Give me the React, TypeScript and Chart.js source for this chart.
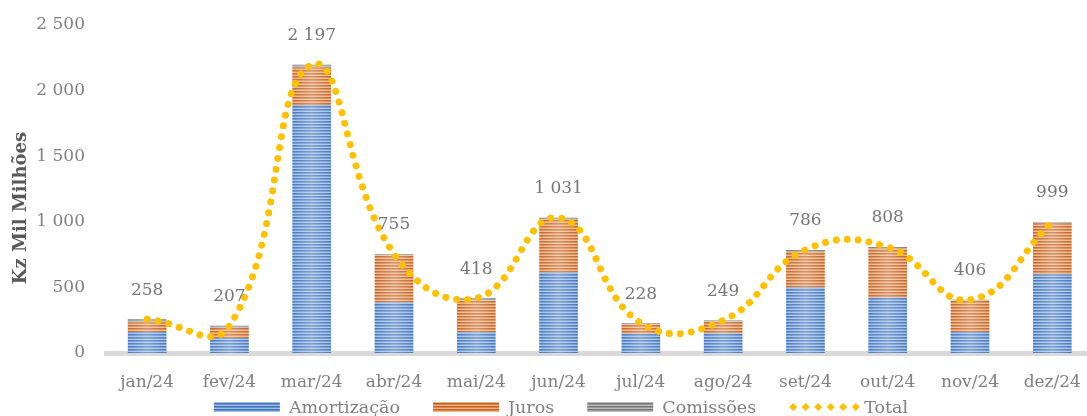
import { useEffect, useRef } from 'react';
import { Chart, registerables } from 'chart.js';

Chart.register(...registerables);

// Monthly debt service, Kz thousand millions
const months = ['jan/24', 'fev/24', 'mar/24', 'abr/24', 'mai/24', 'jun/24', 'jul/24', 'ago/24', 'set/24', 'out/24', 'nov/24', 'dez/24'];
const amortizacao = [160, 115, 1890, 385, 158, 613, 147, 150, 499, 423, 160, 601];
const juros = [75, 75, 287, 360, 240, 400, 70, 89, 272, 373, 238, 388];
const comissoes = [23, 17, 20, 10, 20, 18, 11, 10, 15, 12, 8, 10];
const total = [258, 207, 2197, 755, 418, 1031, 228, 249, 786, 808, 406, 999];

const Y_MAX = 2500;
const Y_STEP = 500;
const AXIS_TITLE = 'Kz Mil Milhões';

const FONT = "'DejaVu Serif', serif";
const TEXT_GREY = '#808080';
const LINE_YELLOW = '#FFC000';

const fmt = (n: number) => String(n).replace(/\B(?=(\d{3})+(?!\d))/g, ' ');

function stripes(light: string, mid: string, dark: string): CanvasPattern | string {
  const c = document.createElement('canvas');
  c.width = 4;
  c.height = 3;
  const g = c.getContext('2d');
  if (!g) return mid;
  g.fillStyle = light;
  g.fillRect(0, 0, 4, 1);
  g.fillStyle = dark;
  g.fillRect(0, 1, 4, 1);
  g.fillStyle = mid;
  g.fillRect(0, 2, 4, 1);
  return g.createPattern(c, 'repeat') || mid;
}

// soft lighter band down the middle of each bar
const barSheen = {
  id: 'barSheen',
  afterDatasetDraw(chart: any, args: any) {
    const meta = chart.getDatasetMeta(args.index);
    if (meta.type !== 'bar') return;
    const ctx = chart.ctx;
    ctx.save();
    for (const el of meta.data) {
      const { x, y, base, width } = el.getProps(['x', 'y', 'base', 'width'], true);
      const l = x - width / 2;
      const g = ctx.createLinearGradient(l, 0, l + width, 0);
      g.addColorStop(0, 'rgba(255,255,255,0.05)');
      g.addColorStop(0.5, 'rgba(255,255,255,0.32)');
      g.addColorStop(1, 'rgba(255,255,255,0.05)');
      ctx.fillStyle = g;
      ctx.fillRect(l, Math.min(y, base), width, Math.abs(base - y));
    }
    ctx.restore();
  },
};

// total value written above each column
const totalLabels = {
  id: 'totalLabels',
  afterDatasetsDraw(chart: any) {
    const ctx = chart.ctx;
    const xs = chart.scales.x;
    const ys = chart.scales.y;
    ctx.save();
    ctx.font = `17px ${FONT}`;
    ctx.fillStyle = '#767676';
    ctx.textAlign = 'center';
    ctx.textBaseline = 'middle';
    total.forEach((v, i) => {
      ctx.fillText(fmt(v), xs.getPixelForValue(i), ys.getPixelForValue(v) - 29);
    });
    ctx.restore();
  },
};

// rotated y-axis title
const axisTitle = {
  id: 'axisTitle',
  afterDraw(chart: any) {
    const ctx = chart.ctx;
    ctx.save();
    ctx.translate(21, 208);
    ctx.rotate(-Math.PI / 2);
    ctx.font = `bold 18px ${FONT}`;
    ctx.fillStyle = '#595959';
    ctx.textAlign = 'center';
    ctx.textBaseline = 'middle';
    ctx.fillText(AXIS_TITLE, 0, 0);
    ctx.restore();
  },
};

// legend row at the bottom
const bottomLegend = {
  id: 'bottomLegend',
  afterDraw(chart: any) {
    const ctx = chart.ctx;
    const sw = 66;
    const gapSwatch = 9;
    const gapItem = 33;
    const cy = 407;
    ctx.save();
    ctx.font = `17.5px ${FONT}`;
    const items = chart.data.datasets.map((d: any) => ({
      label: d.label,
      type: d.type,
      fill: d.type === 'line' ? d.borderColor : d.backgroundColor,
      w: ctx.measureText(d.label).width,
    }));
    const totalW = items.reduce((a: number, it: any) => a + sw + gapSwatch + it.w, 0) + gapItem * (items.length - 1);
    let x = 561 - totalW / 2;
    for (const it of items) {
      if (it.type === 'line') {
        ctx.fillStyle = it.fill;
        for (let k = 0; k < 6; k++) {
          const px = x + 4 + k * 12.5;
          ctx.beginPath();
          ctx.moveTo(px, cy - 4);
          ctx.lineTo(px + 4, cy);
          ctx.lineTo(px, cy + 4);
          ctx.lineTo(px - 4, cy);
          ctx.closePath();
          ctx.fill();
        }
      } else {
        ctx.fillStyle = it.fill;
        ctx.fillRect(x, cy - 5, sw, 10);
      }
      x += sw + gapSwatch;
      ctx.fillStyle = TEXT_GREY;
      ctx.textAlign = 'left';
      ctx.textBaseline = 'middle';
      ctx.fillText(it.label, x, cy + 1);
      x += it.w + gapItem;
    }
    ctx.restore();
  },
};

export default function App() {
  const ref = useRef<HTMLCanvasElement>(null);

  useEffect(() => {
    if (!ref.current) return;
    const blue = stripes('#9cc0ea', '#6592d0', '#4670b4');
    const orange = stripes('#f2b47c', '#d8864c', '#bd602c');
    const grey = stripes('#bcbcbc', '#989898', '#767676');

    const chart = new Chart(ref.current, {
      type: 'bar',
      data: {
        labels: months,
        datasets: [
          { label: 'Amortização', data: amortizacao, backgroundColor: blue, stack: 'bars', order: 1 },
          { label: 'Juros', data: juros, backgroundColor: orange, stack: 'bars', order: 1 },
          { label: 'Comissões', data: comissoes, backgroundColor: grey, stack: 'bars', order: 1 },
          {
            type: 'line',
            label: 'Total',
            data: total,
            borderColor: LINE_YELLOW,
            backgroundColor: LINE_YELLOW,
            borderWidth: 7,
            borderDash: [0.01, 11],
            borderCapStyle: 'round',
            pointRadius: 0,
            tension: 0.45,
            fill: false,
            stack: 'line',
            order: 0,
          } as any,
        ] as any,
      },
      options: {
        responsive: false,
        animation: false,
        devicePixelRatio: 1,
        layout: { padding: { top: 25, right: 2, left: 0, bottom: 0 } },
        datasets: { bar: { barPercentage: 0.5, categoryPercentage: 0.94 } },
        plugins: { legend: { display: false }, tooltip: { enabled: false } },
        scales: {
          x: {
            stacked: true,
            grid: { display: false, drawTicks: false },
            border: { display: true, color: '#d9d9d9', width: 5 },
            ticks: { color: TEXT_GREY, font: { family: FONT, size: 17 }, padding: 19, maxRotation: 0, autoSkip: false },
            afterFit: (s: any) => { s.height = 63; },
          },
          y: {
            stacked: true,
            min: 0,
            max: Y_MAX,
            grid: { display: false, drawTicks: false },
            border: { display: false },
            ticks: {
              stepSize: Y_STEP,
              color: TEXT_GREY,
              font: { family: FONT, size: 17 },
              padding: 21,
              callback: (v: any) => fmt(Number(v)),
            },
            afterFit: (s: any) => {
              s.width = 106;
              s.paddingTop = 0;
              s.paddingBottom = 0;
            },
          },
        },
      } as any,
      plugins: [barSheen, totalLabels, axisTitle, bottomLegend],
    });
    return () => chart.destroy();
  }, []);

  return (
    <div style={{ position: 'absolute', left: 0, top: 0, width: 1087, height: 416, overflow: 'hidden', background: '#fff' }}>
      <canvas ref={ref} width={1100} height={416} style={{ display: 'block' }} />
    </div>
  );
}
